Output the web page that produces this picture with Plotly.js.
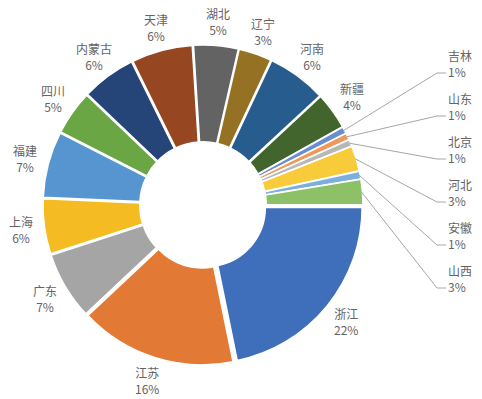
<!DOCTYPE html>
<html>
<head>
<meta charset="utf-8">
<script src="https://cdn.plot.ly/plotly-3.0.1.min.js"></script>
<style>
html,body{margin:0;padding:0;background:#fff;}
#chart{width:482px;height:399px;}
</style>
</head>
<body>
<div id="chart"></div>
<script>
const categories = ['浙江','江苏','广东','上海','福建','四川','内蒙古','天津','湖北','辽宁','河南','新疆','吉林','山东','北京','河北','安徽','山西'];
const values = [21.8,16.2,7.0,5.7,6.8,4.6,5.6,6.3,4.6,3.4,6.1,3.8,0.7,0.7,0.7,2.6,0.8,2.6];
const colors = ['#3F6FBA','#E27A35','#A5A5A5','#F4BC22','#5695D0','#6BA644','#254477','#964621','#636363','#957223','#275C8E','#42652D','#698ED0','#F1975A','#B7B7B7','#F8CB3A','#7CAFDD','#8CC168'];

const W = 482, H = 399;
const cx = 203, cy = 205, R = 160;   // outer radius incl. pull (px)
const pull = 0.025;
const labelR = 184;
const textColor = '#646464';
const font = '"Noto Sans CJK SC", "Noto Sans", sans-serif';

const px = x => x / W;
const py = y => 1 - y / H;

const total = values.reduce((a, b) => a + b, 0);
const annotations = [];
const shapes = [];
let start = 90;
const column = [];
values.forEach((v, i) => {
  const span = v / total * 360;
  const mid = start + span / 2;
  start += span;
  const pct = Math.round(v / total * 100) + '%';
  const m = ((mid % 360) + 360) % 360;
  if (m > 60 && m < 90) {
    column.push({i, mid: m, pct});
  } else {
    const t = m * Math.PI / 180;
    annotations.push({
      xref: 'paper', yref: 'paper',
      x: px(cx + labelR * Math.sin(t)), y: py(cy - labelR * Math.cos(t)),
      xanchor: 'center', yanchor: 'middle', showarrow: false,
      text: categories[i] + '<br>' + pct, align: 'center',
      font: {family: font, size: 12, color: textColor}
    });
  }
});

const colTop = 63.5, colStep = 43, colTextX = 446, elbowX = 437;
column.forEach((c, k) => {
  const yc = colTop + k * colStep;
  annotations.push({
    xref: 'paper', yref: 'paper',
    x: px(colTextX), y: py(yc),
    xanchor: 'left', yanchor: 'middle', showarrow: false,
    text: categories[c.i] + '<br>' + c.pct, align: 'left',
    font: {family: font, size: 12, color: textColor}
  });
  const t = c.mid * Math.PI / 180;
  const sx = cx + (R - 1) * Math.sin(t), sy = cy - (R - 1) * Math.cos(t);
  const ly = yc + 9.5;
  shapes.push({
    type: 'path', xref: 'paper', yref: 'paper',
    path: `M${px(sx)},${py(sy)} L${px(elbowX)},${py(ly)} L${px(colTextX)},${py(ly)}`,
    line: {color: '#A6A6A6', width: 1}
  });
});

const trace = {
  type: 'pie',
  labels: categories,
  values: values,
  sort: false,
  direction: 'clockwise',
  rotation: 90,
  hole: 0.38,
  pull: pull,
  textinfo: 'none',
  hoverinfo: 'label+percent',
  marker: {colors: colors, line: {color: '#ffffff', width: 1.5}},
  domain: {x: [px(cx - R), px(cx + R)], y: [py(cy + R), py(cy - R)]}
};

const layout = {
  width: W, height: H,
  margin: {l: 0, r: 0, t: 0, b: 0},
  showlegend: false,
  paper_bgcolor: '#ffffff',
  annotations: annotations,
  shapes: shapes,
  font: {family: font}
};

Plotly.newPlot('chart', [trace], layout, {displayModeBar: false, staticPlot: true});
</script>
</body>
</html>
